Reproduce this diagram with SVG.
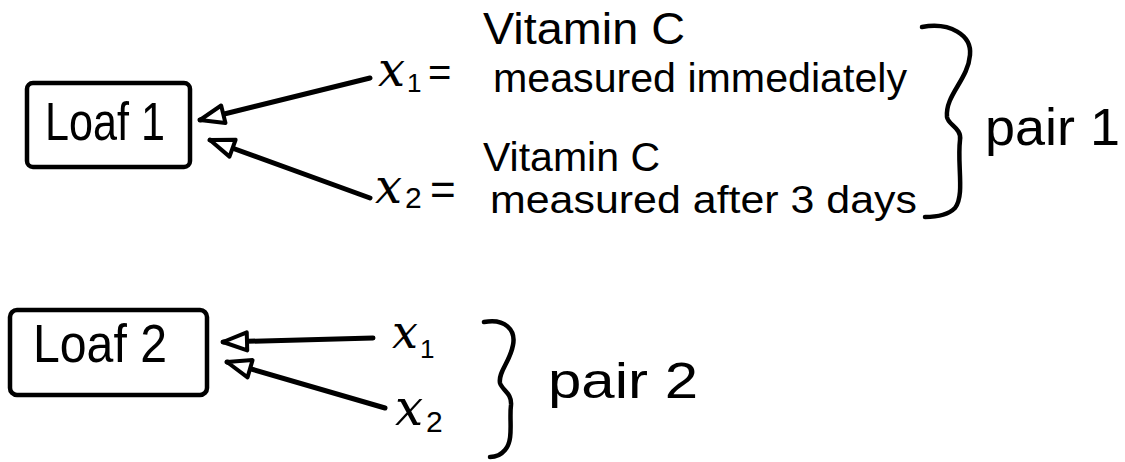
<svg xmlns="http://www.w3.org/2000/svg" width="1125" height="462" viewBox="0 0 1125 462">
  <style>
    .box { fill: none; stroke: #000; stroke-width: 4.5; stroke-linejoin: round; }
    .t { font-family: "Liberation Sans", "DejaVu Sans", sans-serif; fill: #000; }
    .var { font-family: "DejaVu Serif", "Liberation Serif", serif; font-style: italic; fill: #000; }
    .conn { fill: none; stroke: #000; stroke-width: 5; stroke-linecap: round; }
    .brace { fill: none; stroke: #000; stroke-width: 4.5; stroke-linecap: round; stroke-linejoin: round; }
  </style>
  <defs>
    <marker id="hollow" viewBox="-29 -12 32 24" refX="0" refY="0" markerWidth="32" markerHeight="24" markerUnits="userSpaceOnUse" orient="auto">
      <path d="M0,0 L-24,-9 L-24,9 Z" fill="#fff" stroke="#000" stroke-width="4" stroke-linejoin="round"/>
    </marker>
  </defs>
  <rect width="1125" height="462" fill="#fff"/>

  <g id="loaf1">
    <rect class="box" x="27" y="83" width="163" height="84" rx="6"/>
    <text class="t" x="45" y="140" font-size="54" textLength="120" lengthAdjust="spacingAndGlyphs">Loaf 1</text>
  </g>

  <g id="loaf2">
    <rect class="box" x="10" y="310" width="197" height="85" rx="7"/>
    <text class="t" x="33" y="362" font-size="54" textLength="134" lengthAdjust="spacingAndGlyphs">Loaf 2</text>
  </g>

  <g id="pair1-x1">
    <text class="var" x="378" y="86" font-size="48">x</text>
    <text class="t" x="407" y="92" font-size="26">1</text>
    <text class="t" x="428" y="86" font-size="40">=</text>
    <text class="t" x="483" y="44" font-size="44" textLength="202" lengthAdjust="spacingAndGlyphs">Vitamin C</text>
    <text class="t" x="493" y="92" font-size="40" textLength="414" lengthAdjust="spacingAndGlyphs">measured immediately</text>
  </g>

  <g id="pair1-x2">
    <text class="var" x="375" y="203" font-size="48">x</text>
    <text class="t" x="405" y="208" font-size="30">2</text>
    <text class="t" x="430" y="205" font-size="44">=</text>
    <text class="t" x="483" y="171" font-size="40" textLength="177" lengthAdjust="spacingAndGlyphs">Vitamin C</text>
    <text class="t" x="490" y="213" font-size="38" textLength="427" lengthAdjust="spacingAndGlyphs">measured after 3 days</text>
  </g>

  <g id="pair1-label">
    <path class="brace" d="M922,27 C950,22 972,35 970,55 C968,80 945,95 947,117 C948,125 962,128 960,140 C957,165 965,195 955,208 C948,215 935,217 925,217"/>
    <text class="t" x="985" y="145" font-size="52" textLength="135" lengthAdjust="spacingAndGlyphs">pair 1</text>
  </g>

  <g id="pair2-x1">
    <text class="var" x="392" y="348" font-size="46">x</text>
    <text class="t" x="420" y="358" font-size="26">1</text>
  </g>

  <g id="pair2-x2">
    <text class="var" x="395" y="425" font-size="50">x</text>
    <text class="t" x="426" y="432" font-size="30">2</text>
  </g>

  <g id="pair2-label">
    <path class="brace" d="M484,322 C505,318 516,330 513,345 C510,362 498,372 500,383 C502,390 512,393 511,405 C509,420 514,440 505,450 C500,456 495,457 490,457"/>
    <text class="t" x="548" y="398" font-size="50" textLength="150" lengthAdjust="spacingAndGlyphs">pair 2</text>
  </g>

  <g id="connectors">
    <line class="conn" x1="370" y1="78" x2="200" y2="120" marker-end="url(#hollow)"/>
    <line class="conn" x1="370" y1="198" x2="210" y2="140" marker-end="url(#hollow)"/>
    <line class="conn" x1="373" y1="338" x2="223" y2="342" marker-end="url(#hollow)"/>
    <line class="conn" x1="385" y1="408" x2="227" y2="362" marker-end="url(#hollow)"/>
  </g>
</svg>
